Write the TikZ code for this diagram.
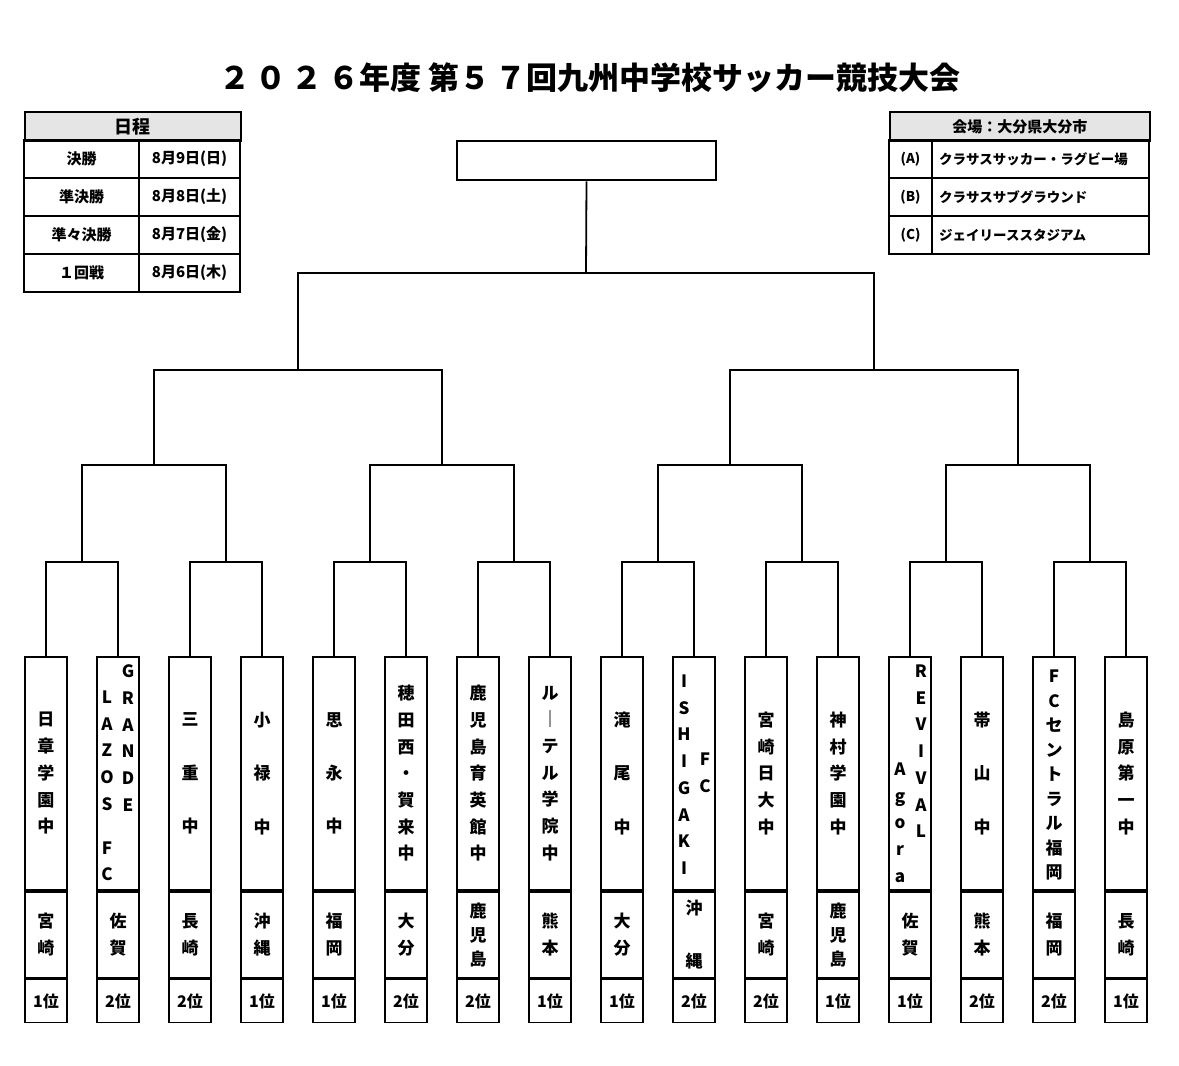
\documentclass[tikz,border=0pt]{standalone}
\usepackage{fontspec}
\setmainfont{Noto Sans CJK JP}
\usetikzlibrary{positioning}

\begin{document}
\begin{tikzpicture}[x=1pt,y=-1pt,line width=1.8pt,
  every node/.style={font=\bfseries},
  cell/.style={draw,rectangle,minimum width=42pt,inner sep=0pt},
  vname/.style={align=center,inner sep=0pt,font=\bfseries\fontsize{17}{26.7}\selectfont},
  vpref/.style={align=center,inner sep=0pt,font=\bfseries\fontsize{17}{27}\selectfont},
  rank/.style={font=\bfseries\fontsize{16}{16}\selectfont},
  tab/.style={font=\bfseries\fontsize{15}{15}\selectfont},
  head/.style={draw,fill=gray!20,minimum height=29pt,inner sep=0pt}
]
\useasboundingbox (0,0) rectangle (1179,1066);

% title
\node[font=\bfseries\fontsize{31}{31}\selectfont] (title) at (590,78) {２\,０\,２\,６年度 第５\,７回九州中学校サッカー競技大会};

% schedule table
\node[head,minimum width=216pt,font=\bfseries\fontsize{18}{18}\selectfont,anchor=north west] (sched) at (24,111) {日程};
\foreach \a/\b [count=\k] in {決勝/8月9日(日),準決勝/8月8日(土),準々決勝/8月7日(金),１回戦/8月6日(木)}{
  \draw (24,102+38*\k) rectangle (139,140+38*\k) (139,102+38*\k) rectangle (240,140+38*\k);
  \node[tab] (sa\k) at (81.5,121+38*\k) {\a};
  \node[tab] (sb\k) at (189.5,121+38*\k) {\b};
}

% venue table
\node[head,minimum width=260pt,font=\bfseries\fontsize{15}{15}\selectfont,anchor=north west] (venue) at (889,111) {会場：大分県大分市};
\foreach \a/\b [count=\k] in {(A)/クラサスサッカー・ラグビー場,(B)/クラサスサブグラウンド,(C)/ジェイリーススタジアム}{
  \draw (889,102+38*\k) rectangle (932,140+38*\k) (932,102+38*\k) rectangle (1149,140+38*\k);
  \node[font=\bfseries\fontsize{13.5}{14}\selectfont] (va\k) at (910.5,121+38*\k) {\a};
  \node[font=\bfseries\fontsize{13.5}{14}\selectfont,anchor=west] (vb\k) at (935,121+38*\k) {\b};
}

% team boxes
\foreach \i in {1,...,16}{
  \pgfmathsetmacro\xx{46+72*(\i-1)}
  \node[cell,minimum height=233pt,anchor=north] (t\i) at (\xx,656) {};
  \node[cell,minimum height=86pt,below=0pt of t\i] (p\i) {};
  \node[cell,minimum height=43pt,below=0pt of p\i] (k\i) {};
}
\foreach \i/\nm in {1/日\\章\\学\\園\\中, 3/三\\[26.7pt]重\\[26.7pt]中, 4/小\\[26.7pt]禄\\[26.7pt]中,
  5/思\\[26.7pt]永\\[26.7pt]中, 6/穂\\田\\西\\・\\賀\\来\\中, 7/鹿\\児\\島\\育\\英\\館\\中,
  8/ル\\｜\\テ\\ル\\学\\院\\中, 9/滝\\[26.7pt]尾\\[26.7pt]中, 11/宮\\崎\\日\\大\\中,
  12/神\\村\\学\\園\\中, 14/帯\\[26.7pt]山\\[26.7pt]中, 16/島\\原\\第\\一\\中}{
  \node[vname] (n\i) at (t\i) {\nm};
}
\node[vname,anchor=north] (n2a) at ([xshift=10pt,yshift=-8pt]t2.north) {G\\R\\A\\N\\D\\E};
\node[vname,anchor=north] (n2b) at ([xshift=-11pt,yshift=-34pt]t2.north) {L\\A\\Z\\O\\S\\[17pt]F\\C};
\node[vname,anchor=north] (n10a) at ([xshift=-10pt,yshift=-18pt]t10.north) {I\\S\\H\\I\\G\\A\\K\\I};
\node[vname,anchor=north] (n10b) at ([xshift=11pt,yshift=-96pt]t10.north) {F\\C};
\node[vname,anchor=north] (n13a) at ([xshift=11pt,yshift=-8pt]t13.north) {R\\E\\V\\I\\V\\A\\L};
\node[vname,anchor=north] (n13b) at ([xshift=-10pt,yshift=-106pt]t13.north) {A\\g\\o\\r\\a};
\node[vname,font=\bfseries\fontsize{17}{24.5}\selectfont] (n15) at ([yshift=-2pt]t15) {F\\C\\セ\\ン\\ト\\ラ\\ル\\福\\岡};

\foreach \i/\pf/\rk in {1/宮\\崎/1, 2/佐\\賀/2, 3/長\\崎/2, 4/沖\\縄/1, 5/福\\岡/1, 6/大\\分/2,
  7/鹿\\[-3pt]児\\[-3pt]島/2, 8/熊\\本/1, 9/大\\分/1, 10/沖\\[26pt]縄/2, 11/宮\\崎/2,
  12/鹿\\[-3pt]児\\[-3pt]島/1, 13/佐\\賀/1, 14/熊\\本/2, 15/福\\岡/2, 16/長\\崎/1}{
  \node[vpref] (q\i) at (p\i) {\pf};
  \node[rank] (r\i) at (k\i) {\rk 位};
}

% bracket
\node[draw,line width=2.6pt,minimum width=259pt,minimum height=39pt,inner sep=0pt] (champ) at (586.5,160.5) {};
\foreach \m in {1,...,8}{
  \pgfmathsetmacro\xx{82+144*(\m-1)}
  \coordinate (a\m) at (\xx,562);
}
\foreach \m in {1,...,4}{
  \pgfmathsetmacro\xx{154+288*(\m-1)}
  \coordinate (b\m) at (\xx,465);
}
\coordinate (c1) at (298,370);
\coordinate (c2) at (874,370);
\coordinate (fin) at (586,273);
\foreach \m [evaluate=\m as \p using int(2*\m-1), evaluate=\m as \q using int(2*\m)] in {1,...,8}{
  \draw (t\p.north) |- (a\m) -| (t\q.north);
}
\foreach \m [evaluate=\m as \p using int(2*\m-1), evaluate=\m as \q using int(2*\m)] in {1,...,4}{
  \draw (a\p) |- (b\m) -| (a\q);
}
\draw (b1) |- (c1) -| (b2);
\draw (b3) |- (c2) -| (b4);
\draw (c1) |- (fin) -| (c2);
\draw (fin) -- (champ.south);

\end{tikzpicture}
\end{document}
